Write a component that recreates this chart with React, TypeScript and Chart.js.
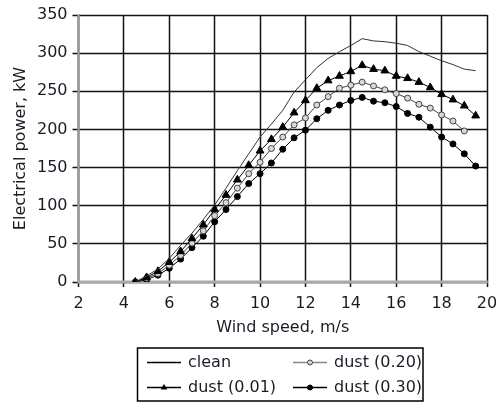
import React, { useEffect, useRef } from 'react';
import { Chart, registerables } from 'chart.js';
Chart.register(...registerables);

const windSpeed = [4.5, 5, 5.5, 6, 6.5, 7, 7.5, 8, 8.5, 9, 9.5, 10, 10.5, 11, 11.5, 12, 12.5, 13, 13.5, 14, 14.5, 15, 15.5, 16, 16.5, 17, 17.5, 18, 18.5, 19, 19.5];
const cleanPower = [0, 8, 17, 31, 48, 64, 82, 101, 123, 146, 168, 190, 207, 225, 249, 265, 281, 293, 302, 310, 319, 316, 315, 313, 310, 302, 296, 290, 285, 279, 277];
const dust001Power = [0, 6, 14, 26, 40, 57, 75, 95, 114, 134, 153, 172, 187, 203, 222, 238, 254, 264, 270, 276, 284, 279, 277, 270, 267, 262, 255, 246, 239, 231, 218];
const dust020Power = [0, 5, 11, 22, 35, 51, 67, 87, 104, 123, 142, 157, 175, 190, 206, 215, 232, 243, 254, 258, 262, 257, 252, 247, 241, 233, 228, 219, 211, 198];
const dust030Power = [0, 3, 9, 18, 30, 45, 60, 79, 95, 112, 129, 142, 156, 174, 189, 199, 214, 225, 232, 238, 242, 237, 235, 230, 221, 216, 203, 190, 181, 168, 152];
const seriesLabels = ['clean', 'dust (0.01)', 'dust (0.20)', 'dust (0.30)'];
const xTickValues = [2, 4, 6, 8, 10, 12, 14, 16, 18, 20];
const yTickValues = [0, 50, 100, 150, 200, 250, 300, 350];

const FONT = "'DejaVu Sans', sans-serif";
const TEXT = '#1b1b26';

const toPoints = (vals: number[]) => vals.map((y, i) => ({ x: windSpeed[i], y }));
const snap = (p: number) => Math.round(p - 0.5) + 0.5;

const drawGrid = (chart: any) => {
  const ctx = chart.ctx;
  const ca = chart.chartArea;
  const xs = chart.scales.x;
  const ys = chart.scales.y;
  ctx.save();
  ctx.setLineDash([]);
  ctx.strokeStyle = '#111';
  ctx.lineWidth = 1.5;
  xTickValues.forEach((v) => {
    const p = snap(xs.getPixelForValue(v));
    ctx.beginPath();
    ctx.moveTo(p, ca.top);
    ctx.lineTo(p, ca.bottom + 5);
    ctx.stroke();
  });
  yTickValues.forEach((v) => {
    const p = snap(ys.getPixelForValue(v));
    ctx.beginPath();
    ctx.moveTo(ca.left - 6, p);
    ctx.lineTo(ca.right, p);
    ctx.stroke();
  });
  ctx.strokeStyle = '#9a9a9a';
  ctx.lineWidth = 2.5;
  ctx.beginPath();
  ctx.moveTo(snap(ca.left), ca.top - 0.75);
  ctx.lineTo(snap(ca.left), ca.bottom);
  ctx.stroke();
  ctx.strokeStyle = '#aaa';
  ctx.lineWidth = 3;
  ctx.beginPath();
  ctx.moveTo(ca.left - 1, Math.round(ca.bottom));
  ctx.lineTo(ca.right + 0.75, Math.round(ca.bottom));
  ctx.stroke();
  ctx.restore();
};

// Grid drawn under the data; afterwards checked, and redrawn on top only if it did not appear.
const gridPlugin = {
  id: 'paperGrid',
  beforeDraw(chart: any) {
    chart.ctx.getImageData(0, 0, 1, 1);
  },
  beforeDatasetsDraw(chart: any) {
    drawGrid(chart);
  },
  afterDatasetsDraw(chart: any) {
    const xs = chart.scales.x;
    const ys = chart.scales.y;
    const x = Math.round(xs.getPixelForValue(3));
    const y = Math.floor(snap(ys.getPixelForValue(350)));
    const d = chart.ctx.getImageData(x, y, 1, 1).data;
    const dark = d[3] > 100 && d[0] < 150;
    if (!dark) drawGrid(chart);
  },
};

const legendPlugin = {
  id: 'boxLegend',
  afterDraw(chart: any) {
    const ctx = chart.ctx;
    const ds = chart.data.datasets;
    ctx.save();
    ctx.setLineDash([]);
    ctx.strokeStyle = '#000';
    ctx.lineWidth = 1.5;
    ctx.strokeRect(137.5, 348, 285.5, 53);
    const items = [
      { i: 0, x: 147, y: 362.5 },
      { i: 1, x: 147, y: 387.5 },
      { i: 2, x: 293, y: 362.5 },
      { i: 3, x: 293, y: 387.5 },
    ];
    ctx.font = `16px ${FONT}`;
    ctx.textBaseline = 'middle';
    ctx.textAlign = 'left';
    items.forEach(({ i, x, y }) => {
      const d = ds[i];
      ctx.strokeStyle = i === 2 ? '#888' : '#000';
      ctx.lineWidth = 1.3;
      ctx.beginPath();
      ctx.moveTo(x, y);
      ctx.lineTo(x + 34, y);
      ctx.stroke();
      if (d.pointRadius > 0) {
        ctx.fillStyle = d.pointBackgroundColor;
        ctx.strokeStyle = d.pointBorderColor;
        ctx.lineWidth = 1;
        const cx = x + 17;
        if (d.pointStyle === 'triangle') {
          const r = 3.5;
          ctx.beginPath();
          ctx.moveTo(cx, y - r);
          ctx.lineTo(cx + r * 0.95, y + r * 0.6);
          ctx.lineTo(cx - r * 0.95, y + r * 0.6);
          ctx.closePath();
          ctx.fill();
        } else {
          ctx.beginPath();
          ctx.arc(cx, y, 2.5, 0, Math.PI * 2);
          ctx.fill();
          ctx.stroke();
        }
      }
      ctx.fillStyle = TEXT;
      ctx.fillText(seriesLabels[i], x + 41, y);
    });
    ctx.restore();
  },
};

export default function App() {
  const ref = useRef<HTMLCanvasElement>(null);
  useEffect(() => {
    const canvas = ref.current!;
    canvas.getContext('2d', { willReadFrequently: true });
    const chart = new Chart(canvas, {
      type: 'line',
      data: {
        datasets: [
          {
            label: seriesLabels[0],
            data: toPoints(cleanPower),
            borderColor: '#333',
            borderWidth: 1,
            pointRadius: 0,
            pointStyle: 'circle',
            pointBackgroundColor: '#333',
            pointBorderColor: '#333',
          },
          {
            label: seriesLabels[1],
            data: toPoints(dust001Power),
            borderColor: '#000',
            borderWidth: 1,
            pointStyle: 'triangle',
            pointRadius: 4.5,
            pointBackgroundColor: '#000',
            pointBorderColor: '#000',
            pointBorderWidth: 1,
          },
          {
            label: seriesLabels[2],
            data: toPoints(dust020Power),
            borderColor: '#444',
            borderWidth: 1,
            pointStyle: 'circle',
            pointRadius: 3,
            pointBackgroundColor: '#d8d8d8',
            pointBorderColor: '#444',
            pointBorderWidth: 1,
          },
          {
            label: seriesLabels[3],
            data: toPoints(dust030Power),
            borderColor: '#000',
            borderWidth: 1,
            pointStyle: 'circle',
            pointRadius: 3,
            pointBackgroundColor: '#000',
            pointBorderColor: '#000',
            pointBorderWidth: 1,
          },
        ],
      },
      options: {
        responsive: false,
        animation: false,
        layout: { padding: { top: 15, right: 19, bottom: 66, left: 0 } },
        plugins: { legend: { display: false }, tooltip: { enabled: false } },
        scales: {
          x: {
            type: 'linear',
            min: 2,
            max: 20,
            afterBuildTicks: (s: any) => {
              s.ticks = xTickValues.map((v) => ({ value: v }));
            },
            afterFit: (s: any) => {
              s.height = 55;
            },
            ticks: { color: TEXT, font: { family: FONT, size: 16 }, padding: 7, maxRotation: 0, autoSkip: false },
            grid: { display: false, drawTicks: true, tickLength: 5 },
            border: { display: false },
            title: { display: true, text: 'Wind speed, m/s', color: TEXT, font: { family: FONT, size: 16 }, padding: { top: 0, bottom: 0 } },
          },
          y: {
            type: 'linear',
            min: 0,
            max: 350,
            afterBuildTicks: (s: any) => {
              s.ticks = yTickValues.map((v) => ({ value: v }));
            },
            afterFit: (s: any) => {
              s.width = 78.5;
            },
            ticks: { color: TEXT, font: { family: FONT, size: 16 }, padding: 5, autoSkip: false },
            grid: { display: false, drawTicks: true, tickLength: 6 },
            border: { display: false },
            title: { display: true, text: 'Electrical power, kW', color: TEXT, font: { family: FONT, size: 16 }, padding: { top: 11, bottom: 0 } },
          },
        },
      },
      plugins: [gridPlugin, legendPlugin],
    } as any);
    return () => chart.destroy();
  }, []);
  return (
    <div style={{ position: 'fixed', left: 0, top: 0, width: 496, height: 403, overflow: 'hidden', background: '#fff' }}>
      <canvas ref={ref} width={506} height={403} style={{ width: 506, height: 403, display: 'block' }} />
    </div>
  );
}
